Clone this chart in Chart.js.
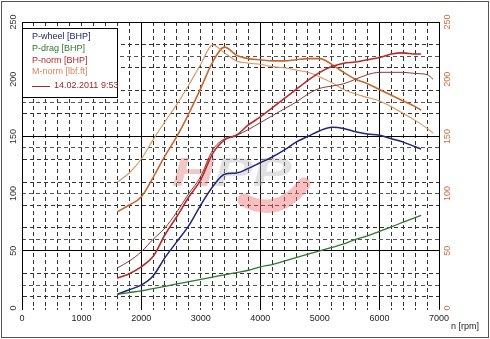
<!DOCTYPE html>
<html>
<head>
<meta charset="utf-8">
<script src="https://cdn.jsdelivr.net/npm/chart.js@4"></script>
<style>
html,body{margin:0;padding:0;background:#fff;}
canvas{display:block;}
</style>
</head>
<body>
<canvas id="c" width="490" height="339"></canvas>
<script>
// ---- data ----
const rpmRun1 = [1600,1800,2000,2200,2400,2600,2800,3000,3200,3400,3600,3800,4000,4200,4400,4600,4800,5000,5200,5400,5600,5800,6000,6200,6400,6600,6700];
const pWheel  = [12,16,20,28,44,58,72,90,106,117,118,122,127,132,138,145,150,155,158,157,154,152,151,148,145,141,139];
const pDrag   = [12,13.5,15,17,19,21,23,25,27,29,31,33,36,38,41,44,47,50,53,56,60,63,67,71,75,79,81];
const pNorm   = [26,30,36,45,64,80,97,112,135,147,151,160,167,175,183,191,199,206,211,214,215,217,219,222,223,222,222];
const mNorm   = [84,90,97,114,133,150,170,192,215,228,221,218,217,216,216,217,218,218,213,206,200,196,191,186,181,176,173];

const rpmRun2 = [1600,1800,2000,2200,2400,2600,2800,3000,3200,3400,3600,3800,4000,4200,4400,4600,4800,5000,5200,5400,5600,5800,6000,6200,6400,6600,6800,6900];
const pNorm2  = [35,41,49,60,70,84,100,115,138,148,151,156,162,168,174,180,187,192,194,196,200,204,206,206,206,205,204,200];
const mNorm2  = [110,118,130,147,163,178,195,213,230,223,216,214,213,211,210,208,206,202,197,191,187,184,181,176,170,164,157,153];

const xTickLabels = [0,1000,2000,3000,4000,5000,6000,7000];
const yTickLabels = [0,50,100,150,200,250];
const legendLabels = ['P-wheel [BHP]','P-drag [BHP]','P-norm [BHP]','M-norm [lbf.ft]'];
const runLabel = '14.02.2011 9:53';
const xTitle = 'n [rpm]';

const FONT = '"Liberation Sans", Arial, sans-serif';
const C = {
  wheel:'#1f2577', drag:'#2e7a2e', norm:'#b82a2a', norm2:'#8e3838',
  torque:'#c9662f', torque2:'#d8955f', legendTorque:'#e0845a', run:'#a02828', right:'#c87040'
};

function pts(xs, ys){ return xs.map((x,i)=>({x:x, y:ys[i]})); }
function line(label, xs, ys, color, width, axis){
  return {label, data:pts(xs,ys), borderColor:color, backgroundColor:color, borderWidth:width,
    pointRadius:0, cubicInterpolationMode:'monotone', fill:false, yAxisID:axis||'y'};
}

const plugins = [{
  id:'decor',
  beforeDatasetsDraw(chart){
    const ctx = chart.ctx;
    ctx.save();
    // faint watermark logo
    ctx.globalAlpha = 0.42;
    ctx.font = 'italic bold 40px ' + FONT;
    ctx.textBaseline = 'alphabetic';
    ctx.save();
    ctx.translate(172,186);
    ctx.scale(1.45,1);
    ctx.fillStyle = '#e07a7a';
    ctx.fillText('H',0,0);
    ctx.fillStyle = '#b8b8b8';
    ctx.fillText('PP',29,0);
    ctx.restore();
    ctx.globalAlpha = 0.45;
    ctx.strokeStyle = '#ee7070';
    ctx.lineWidth = 13;
    ctx.lineCap = 'round';
    ctx.beginPath();
    ctx.moveTo(244,200);
    ctx.quadraticCurveTo(278,218,304,184);
    ctx.stroke();
    ctx.restore();
  },
  afterDraw(chart){
    const ctx = chart.ctx;
    const ys = chart.scales.y, y1 = chart.scales.y1;
    ctx.save();
    // rotated y tick labels
    ctx.font = '9px ' + FONT;
    ctx.textAlign = 'center';
    ctx.textBaseline = 'middle';
    yTickLabels.forEach(v=>{
      let p = ys.getPixelForValue(v);
      ctx.save(); ctx.translate(14,p); ctx.rotate(-Math.PI/2);
      ctx.fillStyle = '#333'; ctx.fillText(String(v),0,0); ctx.restore();
      p = y1.getPixelForValue(v);
      ctx.save(); ctx.translate(448,p); ctx.rotate(-Math.PI/2);
      ctx.fillStyle = C.right; ctx.fillText(String(v),0,0); ctx.restore();
    });
    // axis title
    ctx.textAlign = 'left';
    ctx.fillStyle = '#222';
    ctx.fillText(xTitle, 451, 327);
    // legend box
    ctx.fillStyle = '#fff';
    ctx.fillRect(22,28,95,69);
    ctx.strokeStyle = '#000'; ctx.lineWidth = 1;
    ctx.strokeRect(22.5,28.5,95,69);
    const cols = [C.wheel, C.drag, C.norm, C.legendTorque];
    const ly = [37,49,61,72];
    ctx.font = '9px ' + FONT;
    legendLabels.forEach((t,i)=>{ ctx.fillStyle = cols[i]; ctx.fillText(t, 32, ly[i]); });
    ctx.strokeStyle = C.run; ctx.lineWidth = 1;
    ctx.beginPath(); ctx.moveTo(32,86.5); ctx.lineTo(50,86.5); ctx.stroke();
    ctx.fillStyle = C.run; ctx.fillText(runLabel, 54, 86);
    // outer frame
    ctx.strokeStyle = '#555'; ctx.lineWidth = 1;
    ctx.strokeRect(1.5,1.5,487,336);
    ctx.restore();
  }
}];

new Chart(document.getElementById('c'), {
  type:'line',
  data:{ datasets:[
    line('P-drag [BHP]', rpmRun1, pDrag, C.drag, 1.3),
    line('P-wheel [BHP]', rpmRun1, pWheel, C.wheel, 1.5),
    line('P-norm [BHP] 2', rpmRun2, pNorm2, C.norm2, 1),
    line('P-norm [BHP]', rpmRun1, pNorm, C.norm, 1.6),
    line('M-norm [lbf.ft] 2', rpmRun2, mNorm2, C.torque2, 1.1, 'y1'),
    line('M-norm [lbf.ft]', rpmRun1, mNorm, C.torque, 1.6, 'y1')
  ]},
  options:{
    responsive:false, animation:false, devicePixelRatio:1,
    layout:{padding:{top:22,left:0,right:0,bottom:0}},
    plugins:{legend:{display:false}, tooltip:{enabled:false}},
    scales:{
      x:{
        type:'linear', min:0, max:7000,
        afterFit(s){ s.height = 31; },
        ticks:{ stepSize:200, autoSkip:false, maxRotation:0, minRotation:0, padding:3,
          color:'#222', font:{size:9, family:FONT},
          callback:v => xTickLabels.includes(v) ? String(v) : '' },
        grid:{ color:c => (c.tick && c.tick.value % 2000 === 0) ? '#000' : '#333',
          lineWidth:1, tickLength:2, drawTicks:true },
        border:{ display:false, dash:c => (c.tick && c.tick.value % 2000 !== 0) ? [4,3] : [] }
      },
      y:{
        position:'left', min:0, max:250,
        afterFit(s){ s.width = 22; },
        ticks:{ display:false, stepSize:10 },
        grid:{ drawTicks:false,
          color:c => { const v = c.tick ? c.tick.value : 0; if (v % 20 !== 10) return 'rgba(0,0,0,0)'; return v % 100 === 50 ? '#000' : '#333'; } },
        border:{ display:true, color:'#000', width:1,
          dash:c => { const v = c.tick ? c.tick.value : 50; return v % 100 === 50 ? [] : [4,3]; } }
      },
      y1:{
        position:'right', min:0, max:250,
        afterFit(s){ s.width = 51; },
        ticks:{ display:false, stepSize:10 },
        grid:{ drawTicks:false, drawOnChartArea:true,
          color:c => { const v = c.tick ? c.tick.value : 0; return (v % 40 === 20) ? '#555' : 'rgba(0,0,0,0)'; } },
        border:{ display:true, color:'#000', width:1,
          dash:c => c.tick ? [4,3] : [] }
      }
    }
  },
  plugins
});
</script>
</body>
</html>
